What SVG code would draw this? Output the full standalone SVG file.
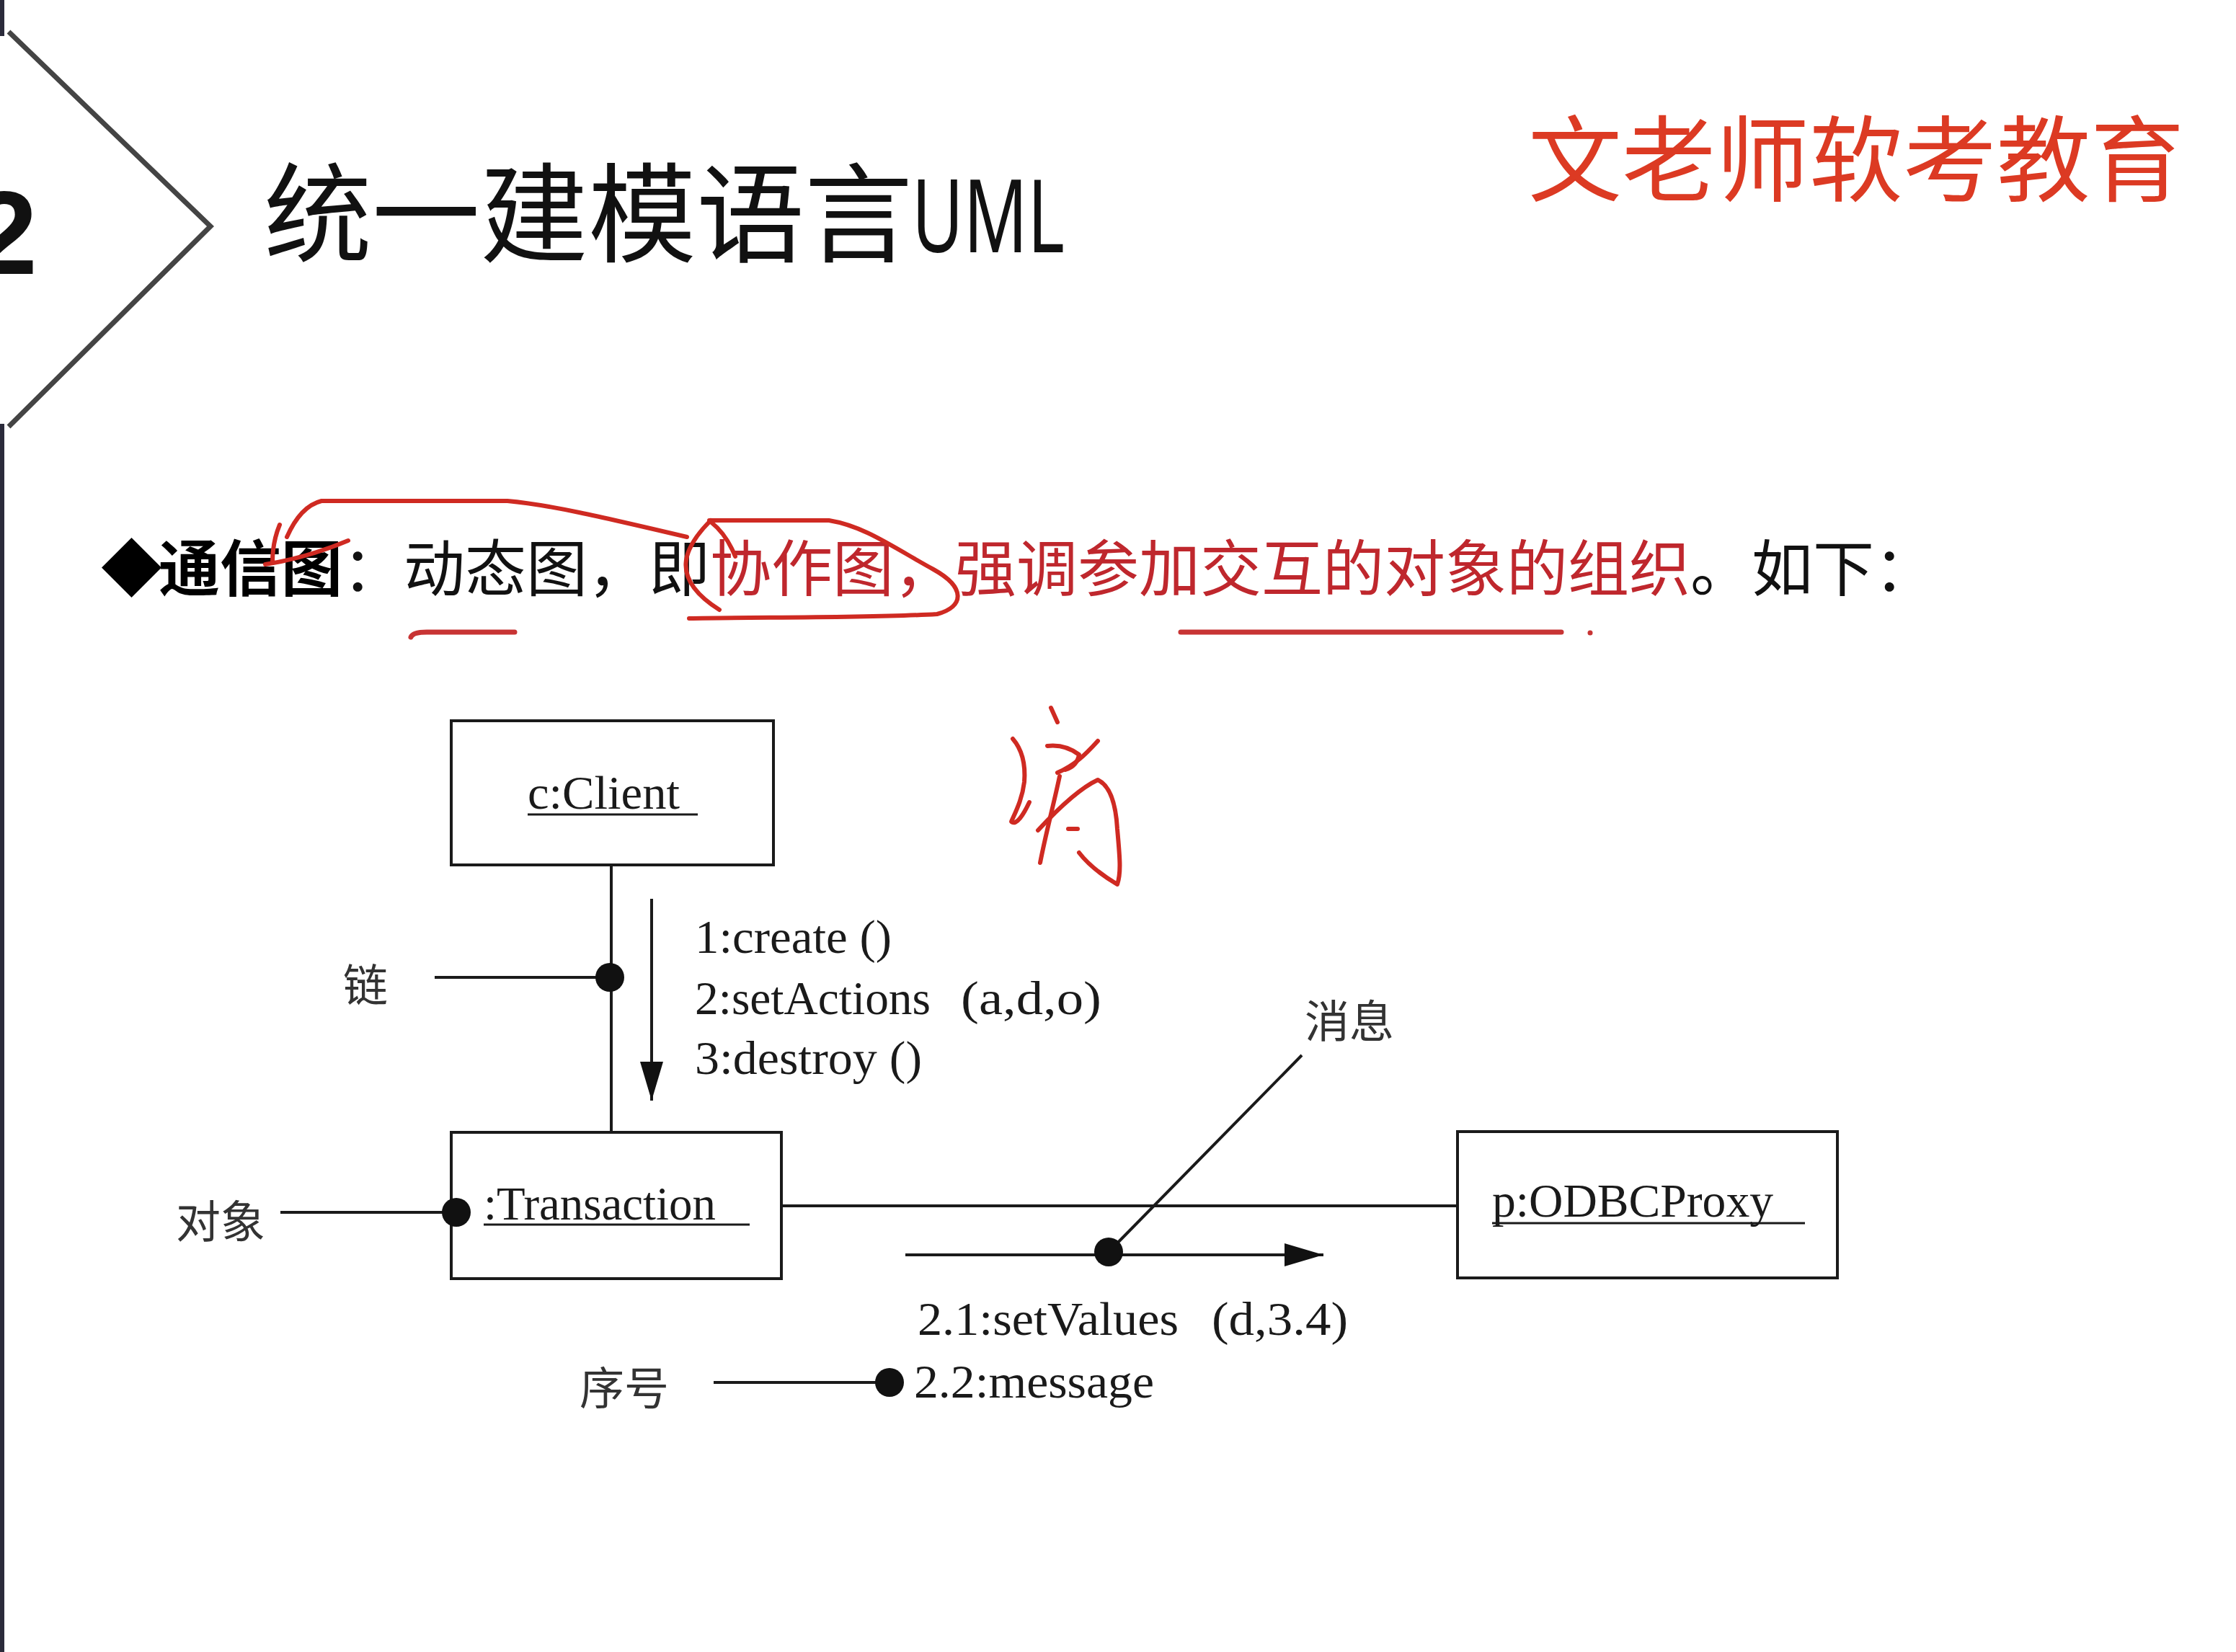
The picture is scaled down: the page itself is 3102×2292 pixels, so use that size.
<svg xmlns="http://www.w3.org/2000/svg" width="3102" height="2292" viewBox="0 0 3102 2292">
  <style>
    .cjk { font-family: "Noto Sans CJK SC", "Noto Sans", sans-serif; }
    .uml { font-family: "Liberation Serif", "Noto Sans CJK SC", serif; font-size: 66px; fill: #1a1a1a; }
    .note { font-family: "Noto Sans CJK SC", sans-serif; font-size: 62px; fill: #333; }
    .box { fill: #fff; stroke: #1a1a1a; stroke-width: 4; }
    .line { stroke: #1a1a1a; stroke-width: 4; fill: none; }
    .uline { stroke: #1a1a1a; stroke-width: 3; }
    .dot { fill: #111; }
    .ink { fill: none; stroke: #cf2a22; stroke-width: 6; stroke-linecap: round; stroke-linejoin: round; }
    .mark { fill: none; stroke: #c83434; stroke-width: 7; stroke-linecap: round; }
  </style>
  <defs>
    <marker id="arrow" markerUnits="userSpaceOnUse" markerWidth="54" markerHeight="32" refX="54" refY="16" orient="auto">
      <path d="M0,0 L54,16 L0,32 z" fill="#111"/>
    </marker>
  </defs>

  <rect width="3102" height="2292" fill="#fff"/>

  <!-- slide header: edge rule, chevron, section number, title, brand -->
  <g id="header">
    <rect x="0" y="0" width="6" height="50" fill="#2b2b3b"/>
    <rect x="0" y="588" width="6" height="1704" fill="#2b2b3b"/>
    <polyline points="12,44 292,314 12,592" fill="none" stroke="#444" stroke-width="7"/>
    <text x="52" y="380" text-anchor="end" font-family="Liberation Sans, sans-serif" font-weight="bold" font-size="165" fill="#111">2</text>
    <text class="cjk" x="366" y="352" font-size="150" font-weight="400" fill="#111">统一建模语言</text>
    <text x="1265" y="350" font-family="Noto Sans, Liberation Sans, sans-serif" font-size="140" fill="#111" textLength="212" lengthAdjust="spacingAndGlyphs">UML</text>
    <text class="cjk" x="2120" y="269" font-size="130" fill="#dc3a23">文老师软考教育</text>
  </g>

  <!-- bullet sentence -->
  <g id="bullet">
    <text class="cjk" x="140" y="820" font-size="85" fill="#000">◆</text>
    <text class="cjk" x="220" y="820" font-size="85" fill="#111"><tspan font-weight="bold" fill="#000">通信图</tspan><tspan>：动态图，即</tspan><tspan fill="#bf272d">协作图，强调参加交互的对象的组织</tspan><tspan>。如下：</tspan></text>
  </g>

  <!-- pen annotations over the sentence -->
  <g id="annotations">
    <path class="ink" d="M388,728 C381,745 378,765 378,780"/>
    <path class="ink" d="M368,783 C400,778 440,768 483,750"/>
    <path class="ink" d="M398,745 C410,718 426,700 446,695 L704,695 C760,700 830,716 953,745"/>
    <path class="ink" d="M986,722 C948,760 928,802 998,846"/>
    <path class="ink" d="M986,724 C1000,735 1012,752 1020,772"/>
    <path class="ink" d="M984,722 L1150,722 C1200,730 1240,760 1295,790 C1340,815 1338,842 1300,852 C1200,858 1050,856 956,858"/>
    <path class="mark" d="M570,884 C572,879 580,877 592,877 L714,877"/>
    <path class="mark" d="M1638,877 L2166,877"/>
    <circle cx="2206" cy="878" r="3.5" fill="#c83434"/>
    <!-- handwritten character -->
    <g class="ink" stroke-width="5">
      <path d="M1458,982 L1467,1002"/>
      <path d="M1405,1025 C1418,1040 1423,1060 1421,1085 C1418,1110 1408,1128 1403,1140 C1410,1146 1420,1130 1428,1113"/>
      <path d="M1453,1035 C1470,1033 1485,1038 1497,1047 C1495,1058 1488,1065 1478,1068"/>
      <path d="M1523,1028 C1505,1048 1490,1062 1467,1072"/>
      <path d="M1470,1077 C1462,1115 1450,1160 1443,1197"/>
      <path d="M1440,1152 C1465,1125 1495,1095 1523,1082 C1540,1090 1548,1115 1550,1150 C1553,1185 1556,1210 1550,1227 C1530,1215 1510,1200 1497,1183"/>
      <path d="M1482,1150 L1495,1150"/>
    </g>
  </g>

  <g id="node-client">
    <rect class="box" x="626" y="1000" width="447" height="200"/>
    <text class="uml" x="732" y="1122" textLength="211" lengthAdjust="spacingAndGlyphs">c:Client</text>
    <line class="uline" x1="732" y1="1130" x2="968" y2="1130"/>
  </g>

  <g id="node-transaction">
    <rect class="box" x="626" y="1571" width="458" height="203"/>
    <text class="uml" x="671" y="1692" textLength="322" lengthAdjust="spacingAndGlyphs">:Transaction</text>
    <line class="uline" x1="671" y1="1699" x2="1040" y2="1699"/>
  </g>

  <g id="node-proxy">
    <rect class="box" x="2022" y="1570" width="527" height="203"/>
    <text class="uml" x="2070" y="1688" textLength="390" lengthAdjust="spacingAndGlyphs">p:ODBCProxy</text>
    <line class="uline" x1="2070" y1="1697" x2="2504" y2="1697"/>
  </g>

  <!-- links, messages and label pointers -->
  <g id="connectors">
    <line class="line" x1="848" y1="1200" x2="848" y2="1571"/>
    <line class="line" x1="1084" y1="1673" x2="2022" y2="1673"/>
    <line class="line" x1="904" y1="1247" x2="904" y2="1527" marker-end="url(#arrow)"/>
    <line class="line" x1="1256" y1="1741" x2="1836" y2="1741" marker-end="url(#arrow)"/>
    <line class="line" x1="603" y1="1356" x2="846" y2="1356"/>
    <circle class="dot" cx="846" cy="1356" r="20"/>
    <line class="line" x1="389" y1="1682" x2="633" y2="1682"/>
    <circle class="dot" cx="633" cy="1682" r="20"/>
    <line class="line" x1="1806" y1="1464" x2="1538" y2="1737"/>
    <circle class="dot" cx="1538" cy="1737" r="20"/>
    <line class="line" x1="990" y1="1918" x2="1233" y2="1918"/>
    <circle class="dot" cx="1234" cy="1918" r="20"/>
  </g>

  <!-- message texts -->
  <g id="messages">
    <text class="uml" x="964" y="1322" textLength="273" lengthAdjust="spacingAndGlyphs">1:create ()</text>
    <text class="uml" x="964" y="1407"><tspan textLength="327" lengthAdjust="spacingAndGlyphs">2:setActions</tspan><tspan x="1333" textLength="195" lengthAdjust="spacingAndGlyphs">(a,d,o)</tspan></text>
    <text class="uml" x="964" y="1490" textLength="315" lengthAdjust="spacingAndGlyphs">3:destroy ()</text>
    <text class="uml" x="1273" y="1852"><tspan textLength="362" lengthAdjust="spacingAndGlyphs">2.1:setValues</tspan><tspan x="1681" textLength="189" lengthAdjust="spacingAndGlyphs">(d,3.4)</tspan></text>
    <text class="uml" x="1268" y="1939" textLength="333" lengthAdjust="spacingAndGlyphs">2.2:message</text>
  </g>

  <!-- element labels -->
  <g id="labels">
    <text class="note" x="476" y="1390">链</text>
    <text class="note" x="244" y="1718">对象</text>
    <text class="note" x="1810" y="1440">消息</text>
    <text class="note" x="804" y="1949">序号</text>
  </g>
</svg>
